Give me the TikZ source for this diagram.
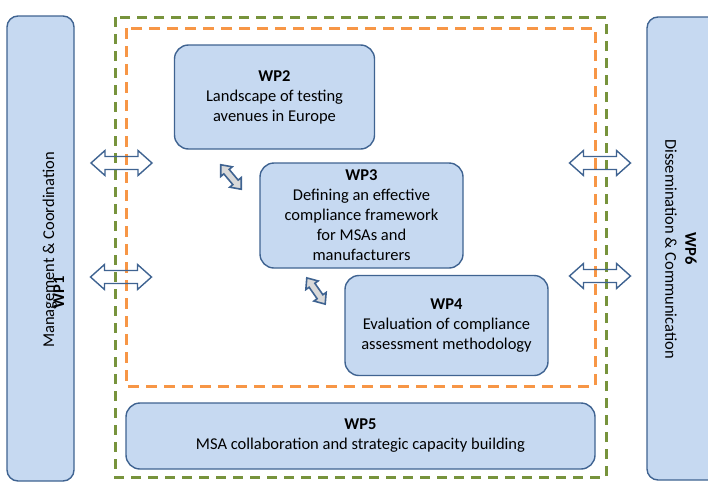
\documentclass[tikz,border=0pt]{standalone}
\usepackage{fontspec}
\setmainfont{Carlito}
\definecolor{wpfill}{HTML}{C6D9F1}
\definecolor{wpline}{HTML}{3F6391}
\definecolor{grn}{HTML}{77933C}
\definecolor{org}{HTML}{F79646}
\definecolor{arrgray}{HTML}{D9D9D9}
\begin{document}
\begin{tikzpicture}[x=1pt,y=-1pt,
  wp/.style={draw=wpline, fill=wpfill, line width=1.4pt, rounded corners=14pt,
    align=center, font=\fontsize{16.5}{20}\selectfont, inner sep=0pt},
  sidewp/.style={wp, rounded corners=11pt},
  lbl/.style={font=\fontsize{16.5}{20}\selectfont, inner sep=0pt},
  greendash/.style={draw=grn, line width=3pt, dash pattern=on 10pt off 7pt},
  orangedash/.style={draw=org, line width=3pt, dash pattern=on 11pt off 7pt},
  bigarrow/.pic={\draw[wpline, line width=1.4pt, line join=miter]
     (-30.5,0) -- (-16.5,-12.5) -- (-16.5,-6.5) -- (16.5,-6.5) -- (16.5,-12.5) -- (30.5,0)
     -- (16.5,12.5) -- (16.5,6.5) -- (-16.5,6.5) -- (-16.5,12.5) -- cycle;},
  smallarrow/.pic={\draw[draw=wpline, fill=arrgray, line width=1.6pt, line join=miter]
     (-16,0) -- (-7,-7.5) -- (-7,-3.5) -- (7,-3.5) -- (7,-7.5) -- (16,0)
     -- (7,7.5) -- (7,3.5) -- (-7,3.5) -- (-7,7.5) -- cycle;}
]
\useasboundingbox (0,0) rectangle (708,482);

% dashed frames
\draw[greendash] (115,17) rectangle (606,477);
\draw[orangedash] (126,28) rectangle (595,386);

% side boxes
\node[sidewp, minimum width=67pt, minimum height=465pt] (wp1) at (40.5,248.5) {};
\node[lbl, rotate=90, anchor=base] (wp1txt) at (54,250) {Management \& Coordination};
\node[lbl, rotate=90, anchor=base] (wp1lbl) at (64,292) {\textbf{WP1}};

\node[sidewp, minimum width=73pt, minimum height=463pt] (wp6) at (683.5,248.5) {};
\node[lbl, rotate=-90, align=center] (wp6txt) at (681,249) {\textbf{WP6}\\Dissemination \& Communication};

% central boxes
\node[wp, minimum width=200pt, minimum height=104pt] (wp2) at (274.5,97)
  {\textbf{WP2}\\Landscape of testing\\avenues in Europe};
\node[wp, minimum width=203pt, minimum height=105pt] (wp3) at (361.5,215.5)
  {\textbf{WP3}\\Defining an effective\\compliance framework\\for MSAs and\\manufacturers};
\node[wp, minimum width=203pt, minimum height=100pt] (wp4) at (446.5,325.5)
  {\textbf{WP4}\\Evaluation of compliance\\assessment methodology};
\node[wp, minimum width=469pt, minimum height=66pt] (wp5) at (360.5,436)
  {\textbf{WP5}\\MSA collaboration and strategic capacity building};

% double arrows
\pic at (121.5,163) {bigarrow};
\pic at (121,277) {bigarrow};
\pic at (600,163) {bigarrow};
\pic at (600,276) {bigarrow};

% small arrows between WPs
\pic[rotate=-50] at (231,177) {smallarrow};
\pic[rotate=-55] at (316,291) {smallarrow};
\end{tikzpicture}
\end{document}
